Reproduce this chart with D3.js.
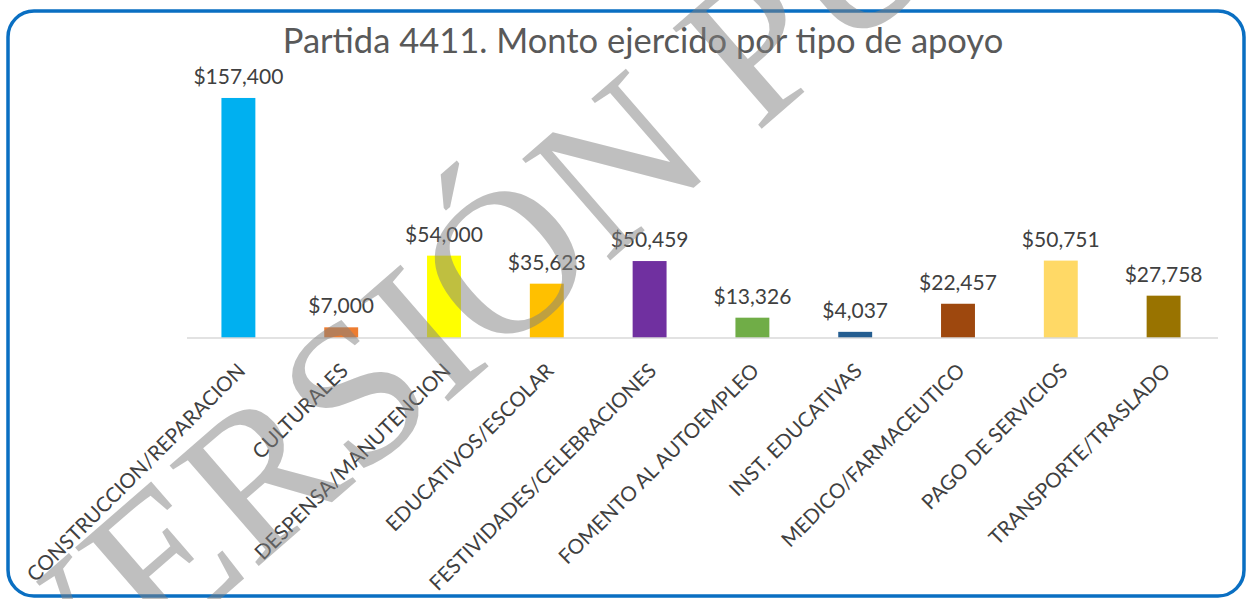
<!DOCTYPE html>
<html>
<head>
<meta charset="utf-8">
<script src="https://cdn.jsdelivr.net/npm/d3@7"></script>
<style>
  body { margin: 0; background: #fff; }
  svg { display: block; }
</style>
</head>
<body>
<svg class="chart"></svg>
<script>
var width = 1246;
var height = 599;

// data
var categories = ['CONSTRUCCION/REPARACION', 'CULTURALES', 'DESPENSA/MANUTENCION', 'EDUCATIVOS/ESCOLAR',
  'FESTIVIDADES/CELEBRACIONES', 'FOMENTO AL AUTOEMPLEO', 'INST. EDUCATIVAS', 'MEDICO/FARMACEUTICO',
  'PAGO DE SERVICIOS', 'TRANSPORTE/TRASLADO'];
var montos = [157400, 7000, 54000, 35623, 50459, 13326, 4037, 22457, 50751, 27758];
var colores = ['#00B0F0', '#ED7D31', '#FFFF00', '#FFC000', '#7030A0', '#70AD47', '#255E91', '#9E480E', '#FFD966', '#997300'];
var titulo = 'Partida 4411. Monto ejercido por tipo de apoyo';
var marca = 'VERSIÓN PÚBLICA';

var margin = {'top': 94, 'right': 28, 'bottom': 261, 'left': 187};

var chart = d3.select('.chart')
    .attr('width', width)
    .attr('height', height);

// frame
chart.append('rect')
  .attr('x', 8).attr('y', 11)
  .attr('width', 1236).attr('height', 585)
  .attr('rx', 26).attr('ry', 26)
  .attr('fill', '#fff')
  .attr('stroke', '#0A6FC2')
  .attr('stroke-width', 3.5);

chart.append('text')
  .attr('x', 643).attr('y', 53)
  .attr('text-anchor', 'middle')
  .style('font-family', 'Lato, sans-serif')
  .style('font-size', '34.5px')
  .attr('fill', '#595959')
  .text(titulo);

var x = d3.scaleBand()
  .domain(categories)
  .range([margin.left, width - margin.right - 3])
  .paddingInner(0.67)
  .paddingOuter(0.335);

var y = d3.scaleLinear()
  .domain([0, 160000])
  .range([height - margin.bottom, margin.top]);

var fmt = d3.format('$,');

// bars
chart.append('g')
  .selectAll('rect')
  .data(montos)
  .join('rect')
    .attr('x', function(d, i){ return x(categories[i]); })
    .attr('y', function(d){ return y(d); })
    .attr('width', x.bandwidth())
    .attr('height', function(d){ return y(0) - y(d); })
    .attr('fill', function(d, i){ return colores[i]; });

// value labels
chart.append('g')
  .selectAll('text')
  .data(montos)
  .join('text')
    .attr('x', function(d, i){ return x(categories[i]) + x.bandwidth() / 2; })
    .attr('y', function(d){ return y(d) - 14; })
    .attr('text-anchor', 'middle')
    .style('font-family', 'Lato, sans-serif')
    .style('font-size', '21px')
    .attr('fill', '#404040')
    .text(function(d){ return fmt(d); });

// x axis, just the base line and rotated labels
var x_axis = d3.axisBottom(x).tickSize(0).tickPadding(0);
var gx = chart.append('g')
  .attr('transform', 'translate(0,' + y(0) + ')')
  .call(x_axis);
gx.select('.domain')
  .attr('d', 'M' + margin.left + ',0H' + (width - margin.right))
  .attr('stroke', '#D9D9D9')
  .attr('stroke-width', 1.5);
gx.selectAll('.tick text')
  .style('font-family', 'Lato, sans-serif')
  .style('font-size', '20.5px')
  .attr('fill', '#404040')
  .attr('text-anchor', 'end')
  .attr('dy', '0.35em')
  .attr('transform', 'translate(3,29) rotate(-45)');

// watermark
chart.append('text')
  .attr('transform', 'translate(47,750) rotate(-41)')
  .style('font-family', '"Liberation Serif", serif')
  .style('font-size', '205px')
  .attr('fill', '#808080')
  .attr('fill-opacity', 0.5)
  .text(marca);
</script>
</body>
</html>
